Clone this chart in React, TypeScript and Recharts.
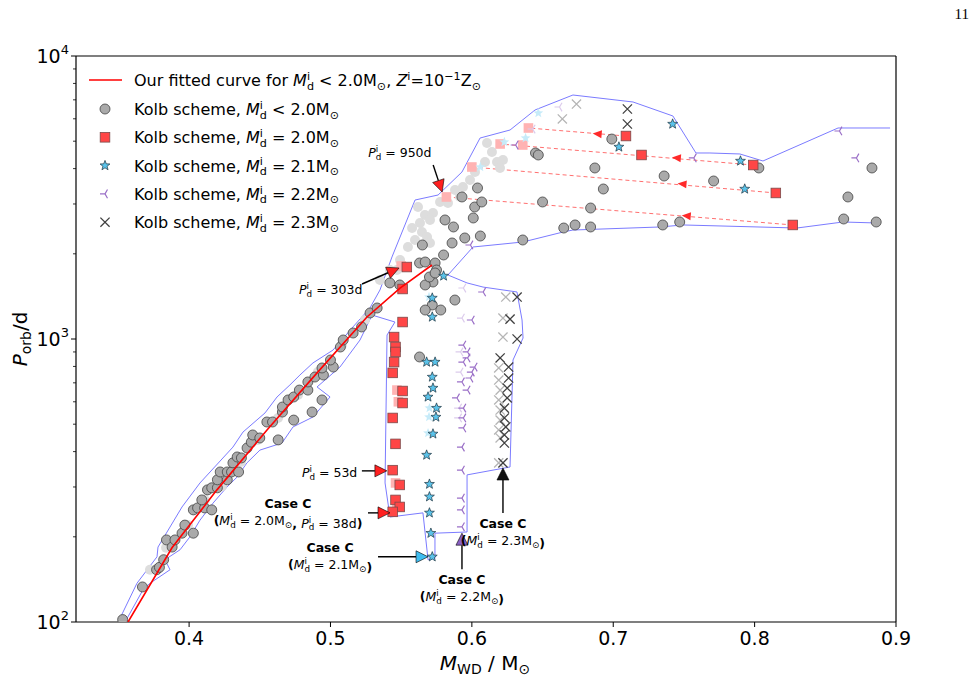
import { ScatterChart, Scatter, XAxis, YAxis } from 'recharts';

type Pt = [number, number];

// axis ticks
const xTicks = [0.4, 0.5, 0.6, 0.7, 0.8, 0.9];
const yTicks = [100, 200, 300, 400, 500, 600, 700, 800, 900, 1000, 2000, 3000, 4000, 5000, 6000, 7000, 8000, 9000, 10000];
const yMajor = [100, 1000, 10000];

// fitted P_orb - M_WD relation for M_d < 2.0
const fittedCurve: Pt[] = [
  [0.3568, 100], [0.3879, 183], [0.4197, 293], [0.4551, 477], [0.4905, 759], [0.5258, 1196], [0.5492, 1514], [0.5718, 1826],
];

// Kolb scheme, M_d < 2.0
const kolbLow: Pt[] = [
  [0.353, 102], [0.367, 133], [0.377, 153], [0.379, 156], [0.382, 166], [0.384, 195], [0.388, 184], [0.39, 195],
  [0.395, 206], [0.403, 206], [0.397, 220], [0.403, 249], [0.406, 253], [0.411, 253], [0.416, 249], [0.409, 270],
  [0.413, 293], [0.416, 298], [0.42, 298], [0.42, 318], [0.427, 318], [0.422, 339], [0.427, 339], [0.43, 339],
  [0.435, 339], [0.431, 365], [0.434, 383], [0.437, 380], [0.441, 412], [0.444, 432], [0.445, 458], [0.45, 447],
  [0.463, 440], [0.455, 509], [0.459, 509], [0.474, 517], [0.466, 552], [0.487, 552], [0.466, 575], [0.47, 609],
  [0.494, 609], [0.474, 624], [0.478, 660], [0.484, 660], [0.484, 705], [0.489, 734], [0.495, 746], [0.494, 790],
  [0.502, 796], [0.5, 843], [0.507, 937], [0.509, 992], [0.516, 1050], [0.522, 1103], [0.528, 1236], [0.533, 1287],
  [0.542, 1578], [0.549, 1552], [0.563, 1856], [0.567, 1871], [0.574, 1856], [0.575, 1753], [0.5725, 1590],
  [0.567, 1552], [0.57, 1656], [0.574, 1711], [0.565, 2149], [0.58, 1981], [0.586, 2184], [0.595, 2275],
  [0.606, 2312], [0.581, 2634], [0.587, 2488], [0.601, 2677], [0.602, 2927], [0.607, 3049], [0.604, 3417],
  [0.593, 3176], [0.588, 1373], [0.578, 1266], [0.572, 1319], [0.567, 1266], [0.563, 864], [0.645, 4542],
  [0.647, 4469], [0.65, 3049], [0.636, 2238], [0.665, 2467], [0.673, 2529], [0.684, 2488], [0.684, 2903],
  [0.687, 4021], [0.693, 3389], [0.699, 5088], [0.735, 2529], [0.736, 3767], [0.747, 2591], [0.771, 3617],
  [0.803, 4021], [0.863, 2655], [0.866, 3176], [0.883, 4021], [0.886, 2591],
];
const kolbLowFaint: Pt[] = [
  [0.6107, 4927], [0.6142, 4579], [0.6178, 4221], [0.622, 4290], [0.6199, 4021], [0.6093, 4221], [0.6022, 3891],
  [0.5987, 3647], [0.5937, 3444], [0.5916, 3176], [0.5881, 3362], [0.5831, 3024], [0.5775, 3049], [0.5725, 2788],
  [0.5668, 2743], [0.5704, 2634], [0.5633, 2570], [0.5619, 2927], [0.5577, 2467], [0.5647, 2388], [0.5683, 2293],
  [0.5598, 2238], [0.5704, 2184], [0.5548, 2114], [0.5492, 1902], [0.547, 1753], [0.535, 1616], [0.5421, 1753],
  [0.3723, 153], [0.3837, 183], [0.3992, 220], [0.4112, 270], [0.4233, 302], [0.4367, 368], [0.4487, 440],
  [0.4629, 526], [0.477, 634], [0.4911, 764], [0.5081, 952], [0.5244, 1167],
];

// Kolb scheme, M_d = 2.0
const kolb20: Pt[] = [
  [0.554, 1796], [0.551, 1502], [0.551, 1148], [0.545, 1016], [0.546, 937], [0.546, 900], [0.545, 829], [0.544, 759],
  [0.551, 655], [0.551, 594], [0.544, 526], [0.546, 426], [0.544, 344], [0.549, 305], [0.546, 270], [0.549, 255],
  [0.544, 245], [0.709, 5215], [0.72, 4469], [0.799, 4119], [0.815, 3281], [0.827, 2529],
];
const kolb20Faint: Pt[] = [
  [0.64, 5567], [0.636, 4847], [0.62, 4887], [0.6, 4053], [0.582, 3176], [0.55, 1811], [0.547, 660], [0.548, 600],
  [0.546, 310], [0.547, 255],
];

// Kolb scheme, M_d = 2.1
const kolb21: Pt[] = [
  [0.58, 1670], [0.572, 1396], [0.572, 1196], [0.568, 829], [0.574, 829], [0.572, 734], [0.5725, 671], [0.569, 624],
  [0.575, 570], [0.5746, 530], [0.5725, 462], [0.568, 389], [0.57, 307], [0.57, 277], [0.57, 243], [0.571, 206],
  [0.572, 170], [0.742, 5750], [0.704, 4770], [0.79, 4256], [0.793, 3389],
];
const kolb21Faint: Pt[] = [
  [0.647, 6289], [0.623, 4967], [0.638, 5130], [0.606, 4053], [0.57, 570], [0.5697, 530], [0.569, 465], [0.57, 1656],
  [0.5697, 1407],
];

// Kolb scheme, M_d = 2.2
const kolb22: Pt[] = [
  [0.608, 1466], [0.6, 1167], [0.594, 952], [0.597, 900], [0.597, 857], [0.594, 829], [0.602, 796], [0.6, 764],
  [0.599, 728], [0.593, 705], [0.597, 660], [0.5895, 619], [0.594, 570], [0.594, 526], [0.594, 485], [0.593, 415],
  [0.593, 344], [0.593, 274], [0.593, 249], [0.593, 217], [0.631, 4847], [0.599, 2149], [0.757, 4362],
  [0.86, 5433], [0.872, 4362],
];
const kolb22Faint: Pt[] = [
  [0.594, 1514], [0.593, 1186], [0.662, 6603], [0.643, 5521], [0.592, 900], [0.592, 764], [0.591, 570], [0.591, 526],
];

// Kolb scheme, M_d = 2.3
const kolb23: Pt[] = [
  [0.632, 1407], [0.627, 1176], [0.632, 1000], [0.62, 857], [0.626, 796], [0.626, 728], [0.625, 671], [0.625, 619],
  [0.623, 570], [0.623, 526], [0.624, 489], [0.623, 458], [0.623, 429], [0.622, 365], [0.71, 6497], [0.71, 5750],
];
const kolb23Faint: Pt[] = [
  [0.624, 1407], [0.622, 1186], [0.622, 1016], [0.619, 790], [0.619, 716], [0.62, 660], [0.619, 609], [0.62, 561],
  [0.62, 517], [0.619, 477], [0.62, 447], [0.619, 365], [0.674, 6766], [0.664, 5991],
];

// outline around all Kolb-scheme models
const envelope: Pt[] = [
  [0.8958, 5567], [0.859, 5567], [0.8059, 4256], [0.7896, 4506], [0.7684, 4542], [0.7585, 4542], [0.7422, 6138],
  [0.714, 6878], [0.6715, 7281], [0.6447, 6446], [0.627, 5476], [0.6058, 5130], [0.593, 3891], [0.5761, 3227],
  [0.5598, 3098], [0.5435, 1949], [0.535, 1490], [0.5279, 1287], [0.5159, 1103], [0.5018, 914], [0.4876, 823],
  [0.4784, 746], [0.4713, 688], [0.4622, 624], [0.4537, 548], [0.4381, 469], [0.431, 415], [0.4077, 310],
  [0.395, 255], [0.378, 184], [0.3773, 170], [0.3631, 137], [0.3511, 103], [0.3547, 100], [0.3674, 130],
  [0.3723, 137], [0.3865, 153], [0.3829, 166], [0.3936, 180], [0.4006, 200], [0.4077, 229], [0.4169, 263],
  [0.4268, 300], [0.4339, 325], [0.4409, 365], [0.4501, 405], [0.4657, 429], [0.4735, 489], [0.4876, 530],
  [0.4997, 624], [0.4905, 677], [0.5067, 796], [0.5209, 992], [0.5294, 1215], [0.5456, 1148], [0.54, 1033],
  [0.5386, 310], [0.5421, 235], [0.5654, 243], [0.569, 166], [0.5739, 168], [0.5739, 206], [0.5966, 208],
  [0.5966, 331], [0.627, 353], [0.6291, 843], [0.6362, 1008], [0.6355, 1167], [0.6319, 1466], [0.6079, 1526],
  [0.5966, 1578], [0.5831, 1683], [0.6008, 2114], [0.6362, 2202], [0.6645, 2388], [0.6715, 2427], [0.7331, 2488],
  [0.7493, 2529], [0.8299, 2467], [0.8625, 2591], [0.8865, 2570],
];

// wide systems that move back along dashed tracks
const tracks: [Pt, Pt][] = [
  [[0.709, 5215], [0.64, 5567]],
  [[0.799, 4119], [0.62, 4887]],
  [[0.815, 3281], [0.6, 4053]],
  [[0.827, 2529], [0.582, 3176]],
];
const trackArrows: Pt[] = [[0.689, 5302], [0.745, 4362], [0.749, 3529], [0.752, 2721]];

// arrow tips of the annotations
const calloutTips = [
  { id: 'p950', m: 0.579, p: 3307 },
  { id: 'p303', m: 0.5485, p: 1782 },
  { id: 'p53', m: 0.5399, p: 342 },
  { id: 'c20', m: 0.5421, p: 243 },
  { id: 'c21', m: 0.569, p: 170 },
  { id: 'c22', m: 0.593, p: 206 },
  { id: 'c23', m: 0.622, p: 350 },
];

const FONT = '"DejaVu Sans", sans-serif';
const SUB = 0.7;

const rows = (pts: Pt[]) => pts.map(([m, p]) => ({ m, p }));

const none = () => <g />;

const circleShape = (fill: string, stroke?: string) => (props: any) => (
  <circle cx={props.cx} cy={props.cy} r={5} fill={fill} stroke={stroke || 'none'} strokeWidth={0.8} />
);

const squareShape = (fill: string, stroke?: string) => (props: any) => (
  <rect x={props.cx - 4.8} y={props.cy - 4.8} width={9.6} height={9.6} fill={fill} stroke={stroke || 'none'} strokeWidth={0.8} />
);

const starPoints = (cx: number, cy: number, r: number) => {
  const pts: string[] = [];
  for (let k = 0; k < 10; k++) {
    const rad = k % 2 === 0 ? r : r * 0.42;
    const a = -Math.PI / 2 + (k * Math.PI) / 5;
    pts.push(`${cx + rad * Math.cos(a)},${cy + rad * Math.sin(a)}`);
  }
  return pts.join(' ');
};

const starShape = (fill: string, stroke?: string) => (props: any) => (
  <polygon points={starPoints(props.cx, props.cy, 5.2)} fill={fill} stroke={stroke || 'none'} strokeWidth={0.7} strokeLinejoin="round" />
);

// tri_left marker
const triShape = (color: string) => (props: any) => {
  const { cx, cy } = props;
  const r = 5;
  return (
    <path
      d={`M${cx},${cy}L${cx - r},${cy}M${cx},${cy}L${cx + r / 2},${cy - r * 0.866}M${cx},${cy}L${cx + r / 2},${cy + r * 0.866}`}
      stroke={color}
      strokeWidth={1.2}
      fill="none"
    />
  );
};

const crossShape = (color: string) => (props: any) => {
  const { cx, cy } = props;
  const r = 4.6;
  return (
    <path
      d={`M${cx - r},${cy - r}L${cx + r},${cy + r}M${cx - r},${cy + r}L${cx + r},${cy - r}`}
      stroke={color}
      strokeWidth={1.3}
      fill="none"
    />
  );
};

const trackHead = (props: any) => {
  const { cx, cy } = props;
  return (
    <polygon
      points={`${cx - 5},${cy} ${cx + 4},${cy - 4} ${cx + 4},${cy + 4}`}
      transform={`rotate(5 ${cx} ${cy})`}
      fill="#ff2a2a"
    />
  );
};

// base glyph with stacked superscript/subscript, then the rest of the line
const stacked = (k: string, fs: number, base: string, sup: string, sub: string, rest: string) => {
  const s = fs * SUB;
  return [
    <tspan key={k + 'b'} fontStyle="italic">{base}</tspan>,
    <tspan key={k + 'u'} fontSize={s} dy={-fs * 0.4}>{sup}</tspan>,
    <tspan key={k + 'd'} fontSize={s} dx={-s * 0.278} dy={fs * 0.62}>{sub}</tspan>,
    <tspan key={k + 'r'} dy={-fs * 0.22}>{rest}</tspan>,
  ];
};

const sun = (k: string, fs: number, rest = '') => [
  <tspan key={k + 's'} fontSize={fs * SUB} dy={fs * 0.22}>⊙</tspan>,
  <tspan key={k + 'r'} dy={-fs * 0.22}>{rest}</tspan>,
];

const arrow = (tx: number, ty: number, head: string) => {
  // from (tx, ty) relative to tip at (0, 0)
  const len = Math.hypot(tx, ty);
  const ux = -tx / len;
  const uy = -ty / len;
  const hl = 12;
  const hw = 6;
  const bx = -ux * hl;
  const by = -uy * hl;
  return (
    <g>
      <line x1={tx} y1={ty} x2={bx} y2={by} stroke="#000" strokeWidth={1.4} />
      <polygon
        points={`0,0 ${bx - uy * hw},${by + ux * hw} ${bx + uy * hw},${by - ux * hw}`}
        fill={head}
        stroke="#000"
        strokeWidth={0.6}
      />
    </g>
  );
};

const caseC = (k: string, x: number, y: number, inner: any[]) => (
  <g key={k}>
    <text x={x} y={y} textAnchor="middle" fontSize={12.5} fontWeight="bold">Case C</text>
    <text x={x} y={y + 17} textAnchor="middle" fontSize={12.5}>
      <tspan fontWeight="bold">(</tspan>
      {inner}
      <tspan fontWeight="bold">)</tspan>
    </text>
  </g>
);

const calloutLayout: Record<string, { tail: [number, number]; head: string; label: () => any }> = {
  p950: {
    tail: [-9, -27],
    head: '#ff2020',
    label: () => <text x={-74} y={-35} fontSize={12.5}>{stacked('a', 12.5, 'P', 'i', 'd', ' = 950d')}</text>,
  },
  p303: {
    tail: [-37, 16],
    head: '#ff2020',
    label: () => <text x={-100} y={26} fontSize={12.5}>{stacked('a', 12.5, 'P', 'i', 'd', ' = 303d')}</text>,
  },
  p53: {
    tail: [-25, 0],
    head: '#ff2020',
    label: () => <text x={-85} y={6} fontSize={12.5}>{stacked('a', 12.5, 'P', 'i', 'd', ' = 53d')}</text>,
  },
  c20: {
    tail: [-22, 0],
    head: '#ff2020',
    label: () =>
      caseC('c', -102, -5, [
        ...stacked('a', 12.5, 'M', 'i', 'd', ' = 2.0M'),
        ...sun('b', 12.5),
        <tspan key="c" fontWeight="bold">, </tspan>,
        ...stacked('e', 12.5, 'P', 'i', 'd', ' = 38d'),
      ]),
  },
  c21: {
    tail: [-50, 0],
    head: '#3fbdf0',
    label: () => caseC('c', -98, -5, [...stacked('a', 12.5, 'M', 'i', 'd', ' = 2.1M'), ...sun('b', 12.5)]),
  },
  c22: {
    tail: [0, 36],
    head: '#8a60c4',
    label: () => caseC('c', 0, 51, [...stacked('a', 12.5, 'M', 'i', 'd', ' = 2.2M'), ...sun('b', 12.5)]),
  },
  c23: {
    tail: [0, 45],
    head: '#111111',
    label: () => caseC('c', 0, 60, [...stacked('a', 12.5, 'M', 'i', 'd', ' = 2.3M'), ...sun('b', 12.5)]),
  },
};

const calloutShape = (props: any) => {
  const cfg = calloutLayout[props.payload.id];
  if (!cfg) return <g />;
  return (
    <g transform={`translate(${props.cx},${props.cy})`} fontFamily={FONT} fill="#000">
      {arrow(cfg.tail[0], cfg.tail[1], cfg.head)}
      {cfg.label()}
    </g>
  );
};

const XTick = ({ x, y, payload }: any) => (
  <g>
    <line x1={x} x2={x} y1={y} y2={y + 5} stroke="#000" strokeWidth={1} />
    <text x={x} y={y + 23} textAnchor="middle" fontSize={19} fontFamily={FONT} fill="#000">
      {Number(payload.value).toFixed(1)}
    </text>
  </g>
);

const YTick = ({ x, y, payload }: any) => {
  const v = payload.value;
  const major = yMajor.includes(v);
  return (
    <g>
      <line x1={x - (major ? 5 : 3)} x2={x} y1={y} y2={y} stroke="#000" strokeWidth={major ? 1 : 0.8} />
      {major && (
        <text x={x - 7} y={y + 7} textAnchor="end" fontSize={19} fontFamily={FONT} fill="#000">
          10<tspan fontSize={13} dy={-9}>{Math.round(Math.log10(v))}</tspan>
        </text>
      )}
    </g>
  );
};

const legendItems = [
  { marker: circleShape('#aaaaaa', '#444444'), text: (k: string) => [...stacked(k, 16, 'M', 'i', 'd', ' < 2.0M'), ...sun(k + 's', 16)] },
  { marker: squareShape('#ff4646', '#7a4a4a'), text: (k: string) => [...stacked(k, 16, 'M', 'i', 'd', ' = 2.0M'), ...sun(k + 's', 16)] },
  { marker: starShape('#5bc3ea', '#1c3440'), text: (k: string) => [...stacked(k, 16, 'M', 'i', 'd', ' = 2.1M'), ...sun(k + 's', 16)] },
  { marker: triShape('#9a6fc7'), text: (k: string) => [...stacked(k, 16, 'M', 'i', 'd', ' = 2.2M'), ...sun(k + 's', 16)] },
  { marker: crossShape('#404040'), text: (k: string) => [...stacked(k, 16, 'M', 'i', 'd', ' = 2.3M'), ...sun(k + 's', 16)] },
];

const Overlay = () => (
  <svg width={976} height={679} style={{ position: 'absolute', left: 0, top: 0, pointerEvents: 'none' }} fontFamily={FONT}>
    {/* top and right spines */}
    <line x1={76} x2={896} y1={56} y2={56} stroke="#000" strokeWidth={1.2} />
    <line x1={896} x2={896} y1={56} y2={622} stroke="#000" strokeWidth={1.2} />

    {/* legend */}
    <line x1={89} x2={122} y1={80} y2={80} stroke="#ff0000" strokeWidth={1.5} />
    <text x={134} y={86} fontSize={16} fill="#000">
      {'Our fitted curve for '}
      {stacked('l0', 16, 'M', 'i', 'd', ' < 2.0M')}
      {sun('l0s', 16, ', ')}
      <tspan fontStyle="italic">Z</tspan>
      <tspan fontSize={11.2} dy={-6.4}>i</tspan>
      <tspan dy={6.4}>=10</tspan>
      <tspan fontSize={11.2} dy={-6.4}>−1</tspan>
      <tspan dy={6.4}>Z</tspan>
      {sun('l0z', 16)}
    </text>
    {legendItems.map((item, i) => {
      const cy = 109 + i * 28.3;
      return (
        <g key={i}>
          {item.marker({ cx: 105, cy })}
          <text x={134} y={cy + 6} fontSize={16} fill="#000">
            {'Kolb scheme, '}
            {item.text('k' + i)}
          </text>
        </g>
      );
    })}

    {/* axis titles */}
    <text x={485} y={670} textAnchor="middle" fontSize={20} fill="#000">
      <tspan fontStyle="italic">M</tspan>
      <tspan fontSize={14} dy={4}>WD</tspan>
      <tspan dy={-4}>{' / M'}</tspan>
      {sun('xl', 20)}
    </text>
    <text transform="translate(27,339) rotate(-90)" textAnchor="middle" fontSize={20} fill="#000">
      <tspan fontStyle="italic">P</tspan>
      <tspan fontSize={14} dy={4}>orb</tspan>
      <tspan dy={-4}>/d</tspan>
    </text>

    <text x={969} y={19} textAnchor="end" fontSize={15} fontFamily='"Liberation Serif", serif' fill="#000">11</text>
  </svg>
);

export default function App() {
  return (
    <div style={{ position: 'absolute', left: 0, top: 0, width: 976, height: 679, background: '#fff' }}>
      <ScatterChart width={976} height={679} margin={{ top: 56, right: 80, bottom: 7, left: 6 }}>
        <XAxis
          type="number"
          dataKey="m"
          domain={[0.32, 0.9]}
          ticks={xTicks}
          interval={0}
          allowDataOverflow
          height={50}
          tickSize={0}
          tickMargin={0}
          tick={<XTick />}
          axisLine={{ stroke: '#000', strokeWidth: 1.2 }}
          tickLine={false}
        />
        <YAxis
          type="number"
          dataKey="p"
          scale="log"
          domain={[100, 10000]}
          ticks={yTicks}
          interval={0}
          allowDataOverflow
          width={70}
          tickSize={0}
          tickMargin={0}
          tick={<YTick />}
          axisLine={{ stroke: '#000', strokeWidth: 1.2 }}
          tickLine={false}
        />

        <Scatter data={rows(envelope)} shape={none} line={{ stroke: '#7b7bff', strokeWidth: 1 }} lineType="joint" isAnimationActive={false} />
        {tracks.map((t, i) => (
          <Scatter
            key={'track' + i}
            data={rows(t)}
            shape={none}
            line={{ stroke: '#ff7070', strokeWidth: 1, strokeDasharray: '4 3' }}
            lineType="joint"
            isAnimationActive={false}
          />
        ))}

        <Scatter data={rows(kolbLowFaint)} shape={circleShape('#dddddd')} isAnimationActive={false} />
        <Scatter data={rows(kolb20Faint)} shape={squareShape('#ffb3b3')} isAnimationActive={false} />
        <Scatter data={rows(kolb21Faint)} shape={starShape('#c6ebf9')} isAnimationActive={false} />
        <Scatter data={rows(kolb22Faint)} shape={triShape('#dccbec')} isAnimationActive={false} />
        <Scatter data={rows(kolb23Faint)} shape={crossShape('#b5b5b5')} isAnimationActive={false} />

        <Scatter data={rows(kolbLow)} shape={circleShape('#aaaaaa', '#444444')} isAnimationActive={false} />
        <Scatter data={rows(kolb20)} shape={squareShape('#ff4646', '#7a4a4a')} isAnimationActive={false} />
        <Scatter data={rows(kolb21)} shape={starShape('#5bc3ea', '#1c3440')} isAnimationActive={false} />
        <Scatter data={rows(kolb22)} shape={triShape('#9a6fc7')} isAnimationActive={false} />
        <Scatter data={rows(kolb23)} shape={crossShape('#404040')} isAnimationActive={false} />

        <Scatter data={rows(fittedCurve)} shape={none} line={{ stroke: '#ff0000', strokeWidth: 1.6 }} lineType="joint" isAnimationActive={false} />
        <Scatter data={rows(trackArrows)} shape={trackHead} isAnimationActive={false} />
        <Scatter data={calloutTips} shape={calloutShape} isAnimationActive={false} />
      </ScatterChart>
      <Overlay />
    </div>
  );
}
